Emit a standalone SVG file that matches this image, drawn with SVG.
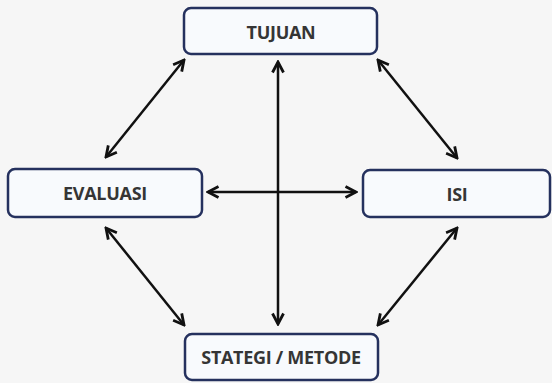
<svg xmlns="http://www.w3.org/2000/svg" width="552" height="383" viewBox="0 0 552 383">
<style>
.box{fill:#f8fafd;stroke:#25315e;stroke-width:2.5}
.lbl{font-family:"Open Sans","Liberation Sans",sans-serif;font-weight:bold;font-size:18px;fill:#353535;text-anchor:middle;dominant-baseline:central;letter-spacing:-0.3px}
.ar{stroke:#111;stroke-width:2.5;fill:none;marker-start:url(#h);marker-end:url(#h)}
</style>
<defs>
<marker id="h" viewBox="0 0 14 14" refX="12" refY="7" markerWidth="14" markerHeight="14" markerUnits="userSpaceOnUse" orient="auto-start-reverse">
<polyline points="1.5,1.5 12,7 1.5,12.5" fill="none" stroke="#111" stroke-width="2.8"/>
</marker>
</defs>
<rect width="552" height="383" fill="#f6f6f6"/>
<g id="connectors">
<line class="ar" x1="278" y1="62" x2="278" y2="324"/>
<line class="ar" x1="208" y1="192" x2="356" y2="192"/>
<line class="ar" x1="184" y1="60" x2="106" y2="157"/>
<line class="ar" x1="378" y1="60" x2="457" y2="158"/>
<line class="ar" x1="106" y1="228" x2="184" y2="325"/>
<line class="ar" x1="457" y1="228" x2="378" y2="325"/>
</g>
<g id="tujuan"><rect class="box" x="184" y="8" width="193" height="46" rx="7"/><text class="lbl" x="281" y="32">TUJUAN</text></g>
<g id="evaluasi"><rect class="box" x="8" y="169" width="194" height="48" rx="7"/><text class="lbl" x="105" y="193">EVALUASI</text></g>
<g id="isi"><rect class="box" x="363" y="170" width="187" height="47" rx="7"/><text class="lbl" x="457" y="194">ISI</text></g>
<g id="strategi"><rect class="box" x="185" y="334" width="193" height="46" rx="7"/><text class="lbl" x="281" y="357">STATEGI / METODE</text></g>
</svg>
